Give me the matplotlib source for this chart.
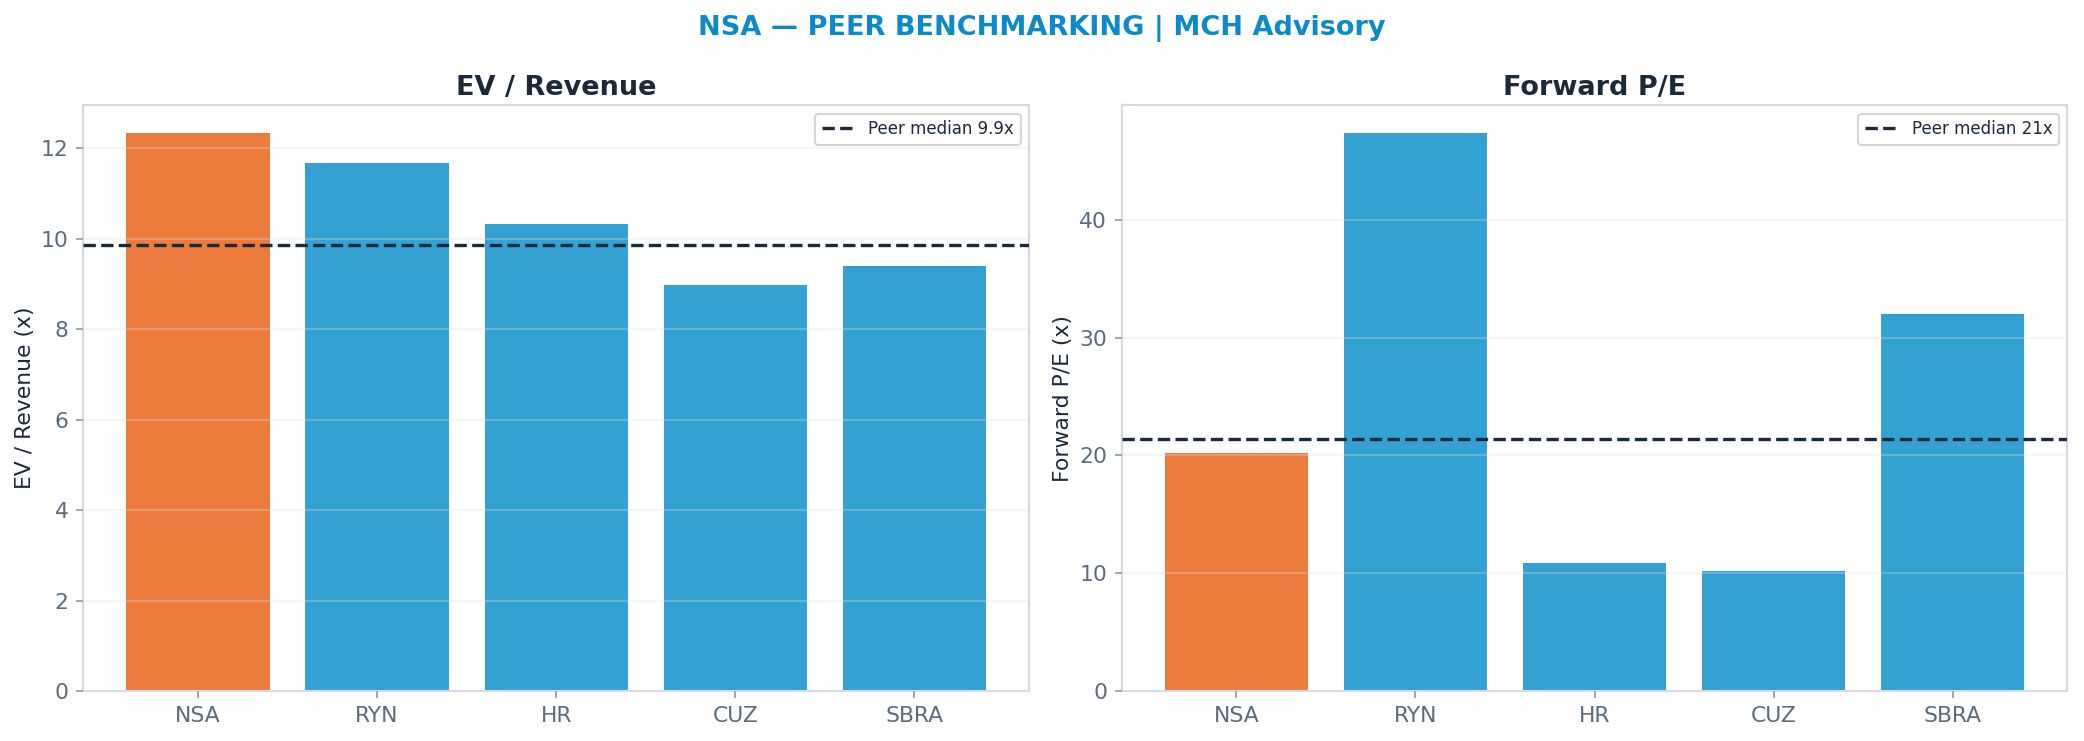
import numpy as np
import matplotlib
matplotlib.use('Agg')
import matplotlib.pyplot as plt

# peer data
tickers = ['NSA', 'RYN', 'HR', 'CUZ', 'SBRA']
ev_rev = [12.34, 11.68, 10.33, 8.97, 9.40]
fwd_pe = [20.25, 47.37, 10.85, 10.17, 32.0]

ORANGE = '#ec7b3e'
BLUE = '#33a2d3'
DARK = '#1b2a3a'
GRAY = '#5a6b7d'
SPINE = '#d3dce6'

plt.rcParams['font.family'] = 'DejaVu Sans'

fig, axes = plt.subplots(1, 2, figsize=(2084/150, 741/150), dpi=150)
fig.subplots_adjust(left=0.040, right=0.992, top=0.858, bottom=0.0675, wspace=0.098)

panels = [(axes[0], ev_rev, 'EV / Revenue', 'EV / Revenue (x)', '{:.1f}x'),
          (axes[1], fwd_pe, 'Forward P/E', 'Forward P/E (x)', '{:.0f}x')]

for ax, vals, title, ylab, fmt in panels:
	colors = [ORANGE] + [BLUE] * (len(vals) - 1)
	ax.bar(tickers, vals, color=colors, width=0.8, zorder=1)
	med = np.median(vals[1:])
	ax.axhline(med, color=DARK, ls='--', lw=1.6, zorder=3, label='Peer median ' + fmt.format(med))
	ax.set_title(title, fontsize=13, fontweight='bold', color=DARK, pad=5)
	ax.set_ylabel(ylab, fontsize=10.5, color=DARK, labelpad=3)
	ax.yaxis.grid(True, color='#e0e0e0', alpha=0.3, lw=1.0, zorder=2)
	ax.set_axisbelow(False)
	for s in ax.spines.values():
		s.set_color(SPINE)
		s.set_linewidth(1.0)
	ax.tick_params(axis='both', colors='#8a99aa', labelcolor=GRAY, labelsize=10.5)
	leg = ax.legend(loc='upper right', fontsize=8, frameon=True, fancybox=True)
	leg.get_frame().set_edgecolor('#cccccc')
	for t in leg.get_texts():
		t.set_color(DARK)

fig.suptitle('NSA — PEER BENCHMARKING | MCH Advisory', fontsize=13, fontweight='bold', color='#0a8ac9', y=0.98)

plt.savefig('out.png', dpi=150)
plt.close()
